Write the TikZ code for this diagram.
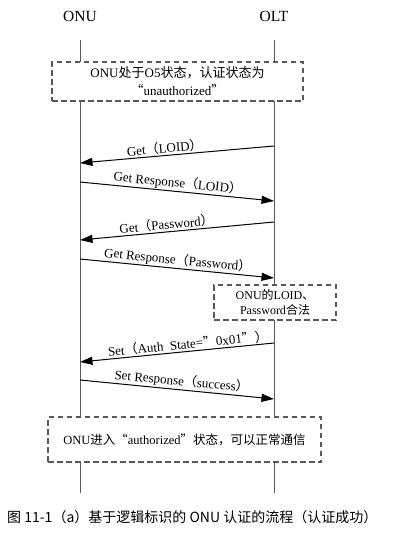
\documentclass[tikz,border=0pt]{standalone}
\usepackage{fontspec}
\setmainfont{Liberation Serif}
\newfontfamily\cjk{Noto Sans CJK SC}
\usetikzlibrary{arrows.meta}
\begin{document}
\begin{tikzpicture}[x=1pt,y=-1pt,
  life/.style={draw=black!65,line width=0.9pt},
  dbox/.style={draw=black!65,dashed,dash pattern=on 5.5pt off 3.5pt,line width=1.1pt,fill=white},
  msg/.style={draw=black,line width=1pt,-{Triangle[length=12.5pt,width=8pt]}},
  lbl/.style={sloped,above,font=\fontsize{13}{15}\selectfont,inner sep=1pt},
  head/.style={font=\fontsize{15.5}{18}\selectfont},
  btxt/.style={font=\fontsize{13}{18}\selectfont,align=center}]
\useasboundingbox (0,0) rectangle (409,544);
% headers
\node[head] (onu) at (80,16) {ONU};
\node[head] (olt) at (274,16) {OLT};
% lifeline ends
\coordinate (onutop) at (80,40);
\coordinate (onubot) at (80,493);
\coordinate (olttop) at (274,40);
\coordinate (oltbot) at (274,493);
\draw[life] (onutop) -- (onubot);
\draw[life] (olttop) -- (oltbot);
% top box
\node[dbox,minimum width=251pt,minimum height=39pt,btxt,inner sep=1pt] (box1) at (177.5,81.5)
  {ONU{\cjk 处于}O5{\cjk 状态，认证状态为}\\{\cjk “}unauthorized{\cjk ”}};
% messages
\coordinate (m1s) at (274,146); \coordinate (m1e) at (80,163);
\coordinate (m2s) at (80,182);  \coordinate (m2e) at (274,201);
\coordinate (m3s) at (274,222); \coordinate (m3e) at (80,240);
\coordinate (m4s) at (80,259);  \coordinate (m4e) at (274,278);
\coordinate (m5s) at (274,343); \coordinate (m5e) at (80,362);
\coordinate (m6s) at (80,380);  \coordinate (m6e) at (274,399);
\draw[msg] (m1s) -- node[lbl,pos=0.56] {Get{\cjk （}LOID{\cjk ）}} (m1e);
\draw[msg] (m2s) -- node[lbl,pos=0.5] {Get Response{\cjk （}LOID{\cjk ）}} (m2e);
\draw[msg] (m3s) -- node[lbl,pos=0.55] {Get{\cjk （}Password{\cjk ）}} (m3e);
\draw[msg] (m4s) -- node[lbl,pos=0.5] {Get Response{\cjk （}Password{\cjk ）}} (m4e);
\draw[msg] (m5s) -- node[lbl,pos=0.44] {Set{\cjk （}Auth\ \ State={\cjk ”}0x01{\cjk ”）}} (m5e);
\draw[msg] (m6s) -- node[lbl,pos=0.52] {Set Response{\cjk （}success{\cjk ）}} (m6e);
% middle box
\node[dbox,minimum width=122pt,minimum height=35pt,btxt,inner sep=1pt,font=\fontsize{12}{15}\selectfont] (box2) at (275,302.5)
  {ONU{\cjk 的}LOID{\cjk 、}\\Password{\cjk 合法}};
% bottom box
\node[dbox,minimum width=273pt,minimum height=45pt,btxt,font=\fontsize{12.5}{15}\selectfont] (box3) at (184.5,439.5)
  {ONU{\cjk 进入“}authorized{\cjk ”状态，可以正常通信}};
% caption
\node[anchor=west,font=\cjk\fontsize{14}{16}\selectfont,inner sep=0pt] (cap) at (7,517)
  {图 11-1（a）基于逻辑标识的 ONU 认证的流程（认证成功）};
\end{tikzpicture}
\end{document}
